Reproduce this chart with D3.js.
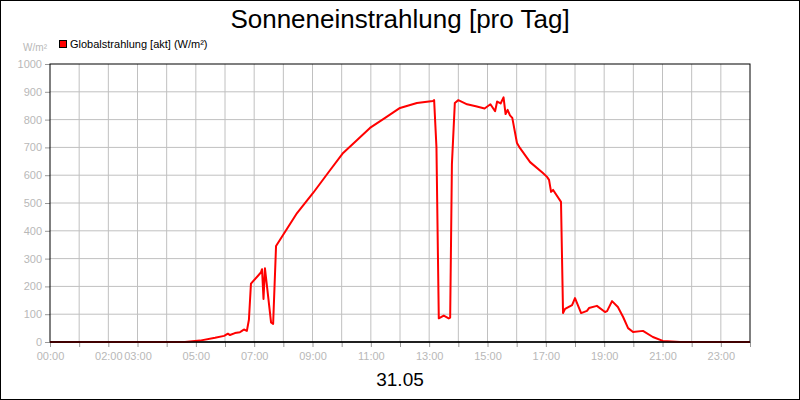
<!DOCTYPE html>
<html><head><meta charset="utf-8">
<script src="https://cdn.jsdelivr.net/npm/d3@7"></script>
<style>body{margin:0;background:#fff}svg{display:block;font-family:"Liberation Sans",Arial,sans-serif}</style>
</head><body><svg id="c" width="800" height="400"></svg>
<script>
const hours = [0,4.63,5.14,5.66,5.97,6.1,6.17,6.34,6.51,6.58,6.65,6.75,6.82,6.89,7.23,7.27,7.32,7.37,7.44,7.58,7.65,7.75,7.99,8.47,9.02,9.53,10.05,10.53,10.97,11.49,12.0,12.58,13.13,13.17,13.25,13.33,13.5,13.67,13.72,13.78,13.88,14.0,14.3,14.6,14.9,15.1,15.26,15.33,15.45,15.55,15.62,15.69,15.77,15.85,16.01,16.11,16.46,16.9,17.04,17.11,17.18,17.25,17.52,17.59,17.66,17.9,18.0,18.21,18.41,18.48,18.75,19.03,19.1,19.27,19.47,19.65,19.82,19.99,20.33,20.67,21.01,21.6,24];
const values = [0,0,5,15,22,30,25,32,35,40,45,40,80,210,250,262,155,265,200,70,65,345,385,464,536,608,680,727,770,806,842,860,867,870,700,85,95,85,88,640,860,870,855,848,840,855,830,865,858,880,820,835,815,806,716,698,647,608,594,583,540,547,504,104,119,133,158,104,112,122,130,108,111,147,126,90,50,36,40,18,4,0,0];
const yTicks = [0,100,200,300,400,500,600,700,800,900,1000];
const xLabelHours = [0,2,3,5,7,9,11,13,15,17,19,21,23];
const title = "Sonneneinstrahlung [pro Tag]";
const seriesName = "Globalstrahlung [akt] (W/m²)";
const unit = "W/m²";
const dateLabel = "31.05";

const svg = d3.select("#c");
const L=50,R=750,T=64,B=342;
const x = d3.scaleLinear().domain([0,24]).range([L,R]);
const y = d3.scaleLinear().domain([0,1000]).range([B,T]);
svg.append("rect").attr("x",0.5).attr("y",0.5).attr("width",799).attr("height",399).attr("fill","#fff").attr("stroke","#000");
svg.append("text").attr("x",400).attr("y",28).attr("text-anchor","middle").attr("font-size",26).text(title);
svg.append("g").selectAll("line").data(d3.range(1,24)).join("line")
 .attr("x1",d=>x(d)).attr("x2",d=>x(d)).attr("y1",T).attr("y2",B).attr("stroke","#c0c0c0");
svg.append("g").selectAll("line").data(yTicks.slice(1,-1)).join("line")
 .attr("x1",L).attr("x2",R).attr("y1",d=>y(d)).attr("y2",d=>y(d)).attr("stroke","#c0c0c0");
const ya = svg.append("g").attr("transform",`translate(${L},0)`).call(d3.axisLeft(y).tickValues(yTicks).tickSize(5).tickFormat(d3.format("d")));
ya.select(".domain").remove();
ya.selectAll("line").attr("stroke","#999");
ya.selectAll("text").attr("fill","#b8b8b8").attr("font-size",11).attr("font-family","Liberation Sans, Arial");
const xa = svg.append("g").attr("transform",`translate(0,${B})`).call(d3.axisBottom(x).tickValues(d3.range(0,25)).tickSize(5).tickFormat(d=>xLabelHours.includes(d)?String(d).padStart(2,"0")+":00":""));
xa.select(".domain").remove();
xa.selectAll("line").attr("stroke","#999");
xa.selectAll("text").attr("fill","#b8b8b8").attr("font-size",11).attr("font-family","Liberation Sans, Arial").attr("dy","0.9em");
svg.append("rect").attr("x",L).attr("y",T).attr("width",R-L).attr("height",B-T).attr("fill","none").attr("stroke","#000");
svg.append("path").datum(hours.map((h,i)=>[h,values[i]]))
 .attr("d",d3.line().x(d=>x(d[0])).y(d=>y(d[1])))
 .attr("fill","none").attr("stroke","#ff0000").attr("stroke-width",2).attr("stroke-linejoin","round");
svg.append("line").attr("x1",L).attr("x2",R).attr("y1",B).attr("y2",B).attr("stroke","#000").attr("stroke-width",1.5);
svg.append("text").attr("x",47).attr("y",51).attr("text-anchor","end").attr("font-size",10).attr("fill","#b8b8b8").text(unit);
svg.append("rect").attr("x",59.5).attr("y",40.5).attr("width",7).attr("height",7).attr("fill","#ff0000").attr("stroke","#000");
svg.append("text").attr("x",70).attr("y",48).attr("font-size",11).text(seriesName);
svg.append("text").attr("x",400).attr("y",386).attr("text-anchor","middle").attr("font-size",19).text(dateLabel);
</script></body></html>
